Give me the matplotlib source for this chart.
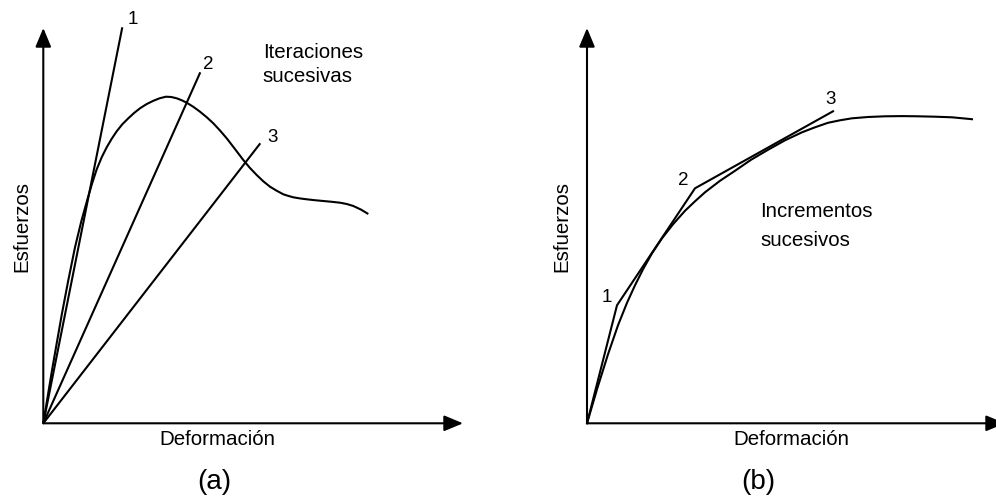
import matplotlib.pyplot as plt

plt.rcParams['font.family'] = ['Liberation Sans', 'DejaVu Sans']

# (a) stress-strain curve with softening, and the secant stiffness of each iteration
strain_a = [0, 4, 8.7, 13.5, 18.7, 25, 31.7, 38, 44.7, 49, 53.4, 58.4, 63.4, 68.4, 73.4,
            79, 85, 91, 96.7, 103.3, 110, 116.3, 122.7, 128, 133.4, 138.5, 143.4, 150,
            156.7, 163.5, 170, 176.7, 183.4, 191.5, 200, 206.5, 213.4, 220, 226.7, 233.5,
            240, 245, 250, 256.5, 263.4, 271.5, 280, 288.5, 296.7, 303.5, 310, 317.5, 325]
stress_a = [0, 24.5, 53, 80.5, 110, 143, 176, 202, 226, 240.5, 254, 266, 276, 284.5, 292,
            299, 305, 310.5, 315, 319.2, 322.5, 325, 326.6, 326.3, 325, 323, 320.6, 316.5,
            311.6, 306, 300, 292.8, 285, 274.5, 263.3, 255.5, 248.3, 242, 236.6, 232.5,
            229, 227.4, 226, 224.9, 224, 223.1, 222.3, 221.5, 220.6, 219.3, 217.3, 213.8, 209.3]
secant_end_x = [79, 157, 217]
secant_end_y = [396, 351, 280]
iter_labels = ['1', '2', '3']

# (b) hardening curve and the piecewise-linear incremental path
strain_b = [0, 10, 21, 31, 40, 48, 56, 65, 75, 86, 98, 108, 118, 133, 148, 164, 181,
            198, 215, 228, 241, 253, 265, 281, 298, 315, 331, 348, 365, 386]
stress_b = [0, 34, 69, 98, 120.5, 138, 154, 170, 185, 199, 212.5, 222, 231, 242.5, 252.5,
            263.5, 273.5, 283, 291, 296, 300.5, 303, 305, 306.3, 307, 307.2, 307, 306.6, 306, 304]
incr_x = [0, 30, 108, 246]
incr_y = [0, 118, 235, 312]
incr_labels = ['1', '2', '3']

LW = 1.5
FS = 14.8


def draw_axes(ax, x_tip, y_tip):
    arrow = dict(arrowstyle='-|>,head_length=1.15,head_width=0.48', mutation_scale=10,
                 lw=LW, color='black', shrinkA=0, shrinkB=0)
    ax.annotate('', xy=(0, y_tip), xytext=(0, 0), arrowprops=arrow, annotation_clip=False)
    ax.annotate('', xy=(x_tip, 0), xytext=(0, 0), arrowprops=arrow, annotation_clip=False)


fig = plt.figure(figsize=(9.96, 5.03), dpi=100)
ax_a = fig.add_axes([0, 0, 0.5, 1])
ax_b = fig.add_axes([0.5, 0, 0.5, 1])

# panel (a): iteraciones sucesivas
ax_a.set_xlim(-43.3, 454.7)
ax_a.set_ylim(-79.7, 423.3)
draw_axes(ax_a, 419.7, 395.3)
ax_a.plot(strain_a, stress_a, color='black', lw=LW, solid_capstyle='butt')
label_off_a = [(11, 8), (8, 8), (12, 6)]
for x, y, lab, off in zip(secant_end_x, secant_end_y, iter_labels, label_off_a):
    ax_a.plot([0, x], [0, y], color='black', lw=LW, solid_capstyle='butt')
    ax_a.annotate(lab, xy=(x, y), xytext=off, textcoords='offset pixels',
                  ha='center', va='center', fontsize=13.5)
ax_a.text(219.4, 365.6, 'Iteraciones', fontsize=FS, ha='left', va='baseline')
ax_a.text(219.4, 341.6, 'sucesivas', fontsize=FS, ha='left', va='baseline')
ax_a.text(-21.6, 196.3, 'Esfuerzos', fontsize=FS, rotation=90, ha='center', va='center')
ax_a.text(174.2, -21.7, 'Deformación', fontsize=FS, ha='center', va='baseline')
ax_a.text(171.2, -58.7, '(a)', fontsize=20, ha='center', va='center')

# panel (b): incrementos sucesivos
ax_b.set_xlim(-89, 409)
ax_b.set_ylim(-79.7, 423.3)
draw_axes(ax_b, 418, 395.3)
ax_b.plot(strain_b, stress_b, color='black', lw=LW, solid_capstyle='butt')
ax_b.plot(incr_x, incr_y, color='black', lw=LW, solid_joinstyle='miter')
label_off_b = [(-10, 8), (-12, 8), (-2, 12)]
for x, y, lab, off in zip(incr_x[1:], incr_y[1:], incr_labels, label_off_b):
    ax_b.annotate(lab, xy=(x, y), xytext=off, textcoords='offset pixels',
                  ha='center', va='center', fontsize=13.5)
ax_b.text(173, 206.6, 'Incrementos', fontsize=FS, ha='left', va='baseline')
ax_b.text(173, 177.3, 'sucesivos', fontsize=FS, ha='left', va='baseline')
ax_b.text(-25.3, 196.6, 'Esfuerzos', fontsize=FS, rotation=90, ha='center', va='center')
ax_b.text(204.7, -21.7, 'Deformación', fontsize=FS, ha='center', va='baseline')
ax_b.text(171.3, -58.7, '(b)', fontsize=20, ha='center', va='center')

for ax in (ax_a, ax_b):
    ax.axis('off')

fig.savefig('out.png', dpi=100)
